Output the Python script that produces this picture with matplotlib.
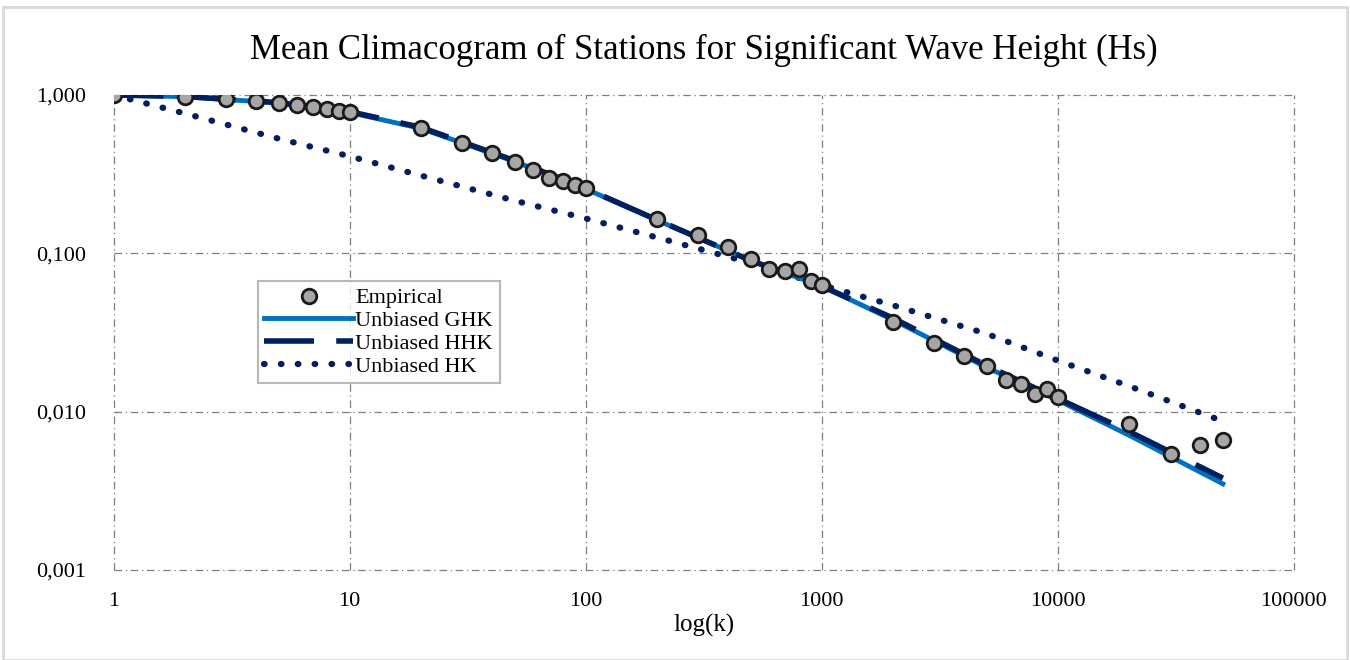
import matplotlib.pyplot as plt
from matplotlib.patches import Rectangle
from matplotlib.ticker import FixedLocator, FixedFormatter, NullLocator

# ----- data -----
k_emp = [1, 2, 3, 4, 5, 6, 7, 8, 9, 10,
         20, 30, 40, 50, 60, 70, 80, 90, 100,
         200, 300, 400, 500, 600, 700, 800, 900, 1000,
         2000, 3000, 4000, 5000, 6000, 7000, 8000, 9000, 10000,
         20000, 30000, 40000, 50000]
c_emp = [1.0, 0.97, 0.94, 0.916, 0.89, 0.86, 0.84, 0.815, 0.79, 0.78,
         0.62, 0.50, 0.43, 0.38, 0.335, 0.30, 0.285, 0.27, 0.258,
         0.164, 0.13, 0.109, 0.0916, 0.080, 0.077, 0.080, 0.0665, 0.063,
         0.037, 0.027, 0.0226, 0.0195, 0.0158, 0.015, 0.013, 0.014, 0.0123,
         0.0083, 0.0054, 0.0062, 0.0066]

k_model = [1, 2, 5, 10, 20, 50, 100, 200, 500, 1000, 2000, 5000, 10000, 20000, 50000]
c_ghk = [1.0, 0.975, 0.89, 0.775, 0.615, 0.38, 0.255, 0.162, 0.09, 0.062,
         0.038, 0.019, 0.0118, 0.0071, 0.0035]
c_hhk = [1.0, 0.978, 0.895, 0.785, 0.625, 0.385, 0.257, 0.163, 0.09, 0.062,
         0.039, 0.0195, 0.0121, 0.0075, 0.0038]
c_hk = [1.0, 0.765, 0.53, 0.41, 0.31, 0.215, 0.166, 0.126, 0.087, 0.063,
        0.047, 0.031, 0.021, 0.0145, 0.0087]

y_ticks = [0.001, 0.01, 0.1, 1.0]
y_labels = ["0,001", "0,010", "0,100", "1,000"]
x_ticks = [1, 10, 100, 1000, 10000, 100000]
x_labels = ["1", "10", "100", "1000", "10000", "100000"]

SERIF = ["Liberation Serif", "DejaVu Serif"]

fig = plt.figure(figsize=(13.5, 6.6), dpi=100)
ax = fig.add_axes([0.0841, 0.1364, 0.8744, 0.7197])

# outer chart border
fig.patches.append(Rectangle((0.002, 0.0), 0.996, 0.99, transform=fig.transFigure,
                             fill=False, edgecolor="#d9d9d9", linewidth=2))

ax.plot(k_model, c_hk, color="#002060", linestyle=(0, (0.1, 2.6)),
        dash_capstyle="round", linewidth=4.5, label="Unbiased HK", zorder=2)
ax.plot(k_model, c_ghk, color="#0070C0", linewidth=3.5, label="Unbiased GHK", zorder=3)
ax.plot(k_model, c_hhk, color="#002060", linestyle=(0, (9, 4)), linewidth=4,
        label="Unbiased HHK", zorder=4)
ax.plot(k_emp, c_emp, linestyle="none", marker="o", markersize=10.5,
        markerfacecolor="#A6A6A6", markeredgecolor="#1a1a1a", markeredgewidth=2.0,
        label="Empirical", zorder=5)

ax.set_xscale("log")
ax.set_yscale("log")
ax.set_xlim(1, 100000)
ax.set_ylim(0.001, 1.0)

ax.xaxis.set_major_locator(FixedLocator(x_ticks))
ax.xaxis.set_major_formatter(FixedFormatter(x_labels))
ax.xaxis.set_minor_locator(NullLocator())
ax.yaxis.set_major_locator(FixedLocator(y_ticks))
ax.yaxis.set_major_formatter(FixedFormatter(y_labels))
ax.yaxis.set_minor_locator(NullLocator())

ax.tick_params(axis="both", length=0, labelsize=16, colors="black")
ax.tick_params(axis="x", pad=16)
ax.tick_params(axis="y", pad=20)
for lab in ax.get_xticklabels() + ax.get_yticklabels():
    lab.set_family(SERIF)

for s in ax.spines.values():
    s.set_visible(False)
ax.grid(True, which="major", color="#7f7f7f", linestyle=(0, (6, 3, 1, 3)), linewidth=0.9)
ax.set_axisbelow(True)
for gl in ax.get_xgridlines() + ax.get_ygridlines():
    gl.set_clip_on(False)

ax.set_title("Mean Climacogram of Stations for Significant Wave Height (Hs)",
             family=SERIF, fontsize=25, pad=26)
ax.set_xlabel("log(k)", family=SERIF, fontsize=18, labelpad=2)

h, l = ax.get_legend_handles_labels()
order = [3, 1, 2, 0]
leg = ax.legend([h[i] for i in order], [l[i] for i in order],
                loc="upper left", bbox_to_anchor=(0.122, 0.608), borderaxespad=0,
                prop={"family": SERIF, "size": 16}, frameon=True, fancybox=False,
                edgecolor="#a6a6a6", handlelength=4.0, handletextpad=0.1,
                labelspacing=0.1, borderpad=0.3)
leg.get_frame().set_linewidth(1.5)

fig.savefig("out.png", dpi=100, facecolor="white")
